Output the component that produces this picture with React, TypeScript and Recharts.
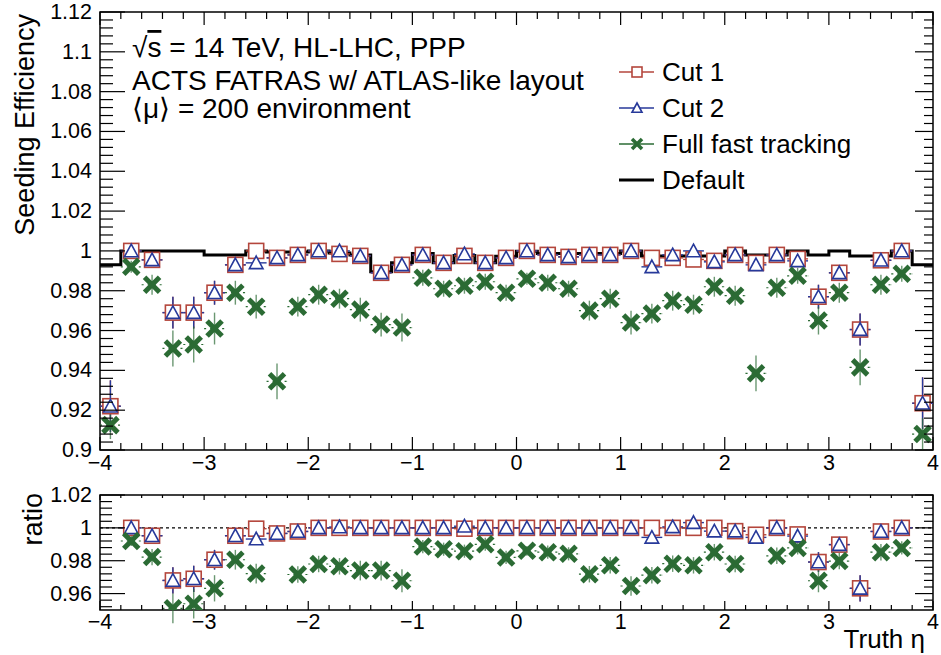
import { ComposedChart, ErrorBar, Line, ReferenceArea, ReferenceLine, Scatter, XAxis, YAxis } from "recharts";

// eta bin centres (bin width 0.2)
const etaCenters = [
  -3.9, -3.7, -3.5, -3.3, -3.1, -2.9, -2.7, -2.5, -2.3, -2.1,
  -1.9, -1.7, -1.5, -1.3, -1.1, -0.9, -0.7, -0.5, -0.3, -0.1,
  0.1, 0.3, 0.5, 0.7, 0.9, 1.1, 1.3, 1.5, 1.7, 1.9,
  2.1, 2.3, 2.5, 2.7, 2.9, 3.1, 3.3, 3.5, 3.7, 3.9,
];
const binHalfWidth = 0.1;

const defaultEff = [
  0.993, 1.0, 1.0, 1.0, 1.0, 0.998, 0.998, 1.0, 0.9995, 0.9995,
  1.0, 0.999, 0.998, 0.9895, 0.994, 0.9987, 0.994, 0.9977, 0.994, 0.9973,
  0.9998, 0.9987, 0.9987, 0.9987, 0.9987, 1.0, 0.9975, 0.9975, 0.9975, 0.9975,
  1.0, 0.998, 0.998, 1.0, 0.998, 1.0, 0.9975, 0.9975, 1.0, 0.993,
];
const cut1Eff = [
  0.922, 1.0, 0.9955, 0.969, 0.969, 0.979, 0.993, 1.0, 0.9965, 0.998,
  1.0, 0.9985, 0.9975, 0.989, 0.993, 0.998, 0.994, 0.9975, 0.994, 0.9965,
  1.0, 0.998, 0.997, 0.998, 0.998, 1.0, 0.9965, 0.9965, 0.9957, 0.995,
  0.998, 0.994, 0.998, 0.996, 0.977, 0.989, 0.9605, 0.9953, 1.0, 0.9235,
];
const cut2Eff = [
  0.922, 1.0, 0.9955, 0.969, 0.969, 0.979, 0.993, 0.994, 0.9965, 0.998,
  1.0, 1.0, 0.9975, 0.989, 0.993, 0.998, 0.994, 0.9985, 0.994, 0.9965,
  1.0, 0.998, 0.997, 0.998, 0.998, 1.0, 0.992, 0.998, 1.0, 0.9945,
  0.998, 0.993, 0.998, 0.995, 0.977, 0.989, 0.9605, 0.9953, 1.0, 0.9235,
];
const fullEff = [
  0.9125, 0.992, 0.983, 0.951, 0.953, 0.961, 0.979, 0.972, 0.9345, 0.972,
  0.978, 0.976, 0.9705, 0.963, 0.9615, 0.9865, 0.981, 0.9825, 0.9845, 0.979,
  0.986, 0.984, 0.981, 0.97, 0.976, 0.964, 0.9685, 0.975, 0.973, 0.982,
  0.9775, 0.9385, 0.9815, 0.9875, 0.965, 0.979, 0.9415, 0.983, 0.9885, 0.908,
];
const cutErr = [
  0.013, 0.002, 0.002, 0.008, 0.008, 0.006, 0.003, 0.002, 0.002, 0.0015,
  0.0015, 0.0015, 0.0015, 0.002, 0.002, 0.0015, 0.0015, 0.0015, 0.0015, 0.0015,
  0.0015, 0.0015, 0.0015, 0.0015, 0.0015, 0.0015, 0.002, 0.0015, 0.0015, 0.002,
  0.0015, 0.002, 0.0015, 0.002, 0.006, 0.003, 0.008, 0.002, 0.002, 0.013,
];
const fullErr = [
  0.007, 0.003, 0.005, 0.009, 0.009, 0.008, 0.006, 0.006, 0.009, 0.005,
  0.005, 0.005, 0.006, 0.006, 0.007, 0.004, 0.004, 0.004, 0.004, 0.004,
  0.003, 0.004, 0.004, 0.005, 0.005, 0.006, 0.005, 0.005, 0.005, 0.005,
  0.005, 0.009, 0.005, 0.004, 0.007, 0.005, 0.009, 0.005, 0.004, 0.008,
];

// ratio to default (null = outside the 0.95-1.02 window)
const cut1Ratio = [
  null, 1.0, 0.9952, 0.968, 0.969, 0.9806, 0.9952, 0.9995, 0.9966, 0.9978,
  1.0, 1.0, 1.0, 1.0, 1.0, 1.0, 1.0, 0.9995, 1.0, 1.0,
  1.0, 1.0, 1.0, 1.0, 1.0, 1.0, 1.0, 1.0, 1.0, 1.0,
  0.998, 0.9958, 1.0, 0.996, 0.9792, 0.9898, 0.9632, 0.9978, 1.0, null,
];
const cut2Ratio = [
  null, 1.0, 0.9952, 0.968, 0.969, 0.9806, 0.9952, 0.9932, 0.9966, 0.9978,
  1.0, 1.0005, 1.0, 1.0, 1.0, 1.0, 1.0, 1.001, 1.0, 1.0,
  1.0, 1.0, 1.0, 1.0, 1.0, 1.0, 0.9942, 1.0006, 1.0032, 0.998,
  0.998, 0.9942, 1.0, 0.995, 0.9792, 0.9898, 0.9632, 0.9978, 1.0, null,
];
const fullRatio = [
  null, 0.992, 0.9822, 0.951, 0.9538, 0.9632, 0.9806, 0.9722, null, 0.9716,
  0.978, 0.9766, 0.974, 0.974, 0.9678, 0.9886, 0.987, 0.9858, 0.99, 0.982,
  0.986, 0.9852, 0.9842, 0.9718, 0.9772, 0.9646, 0.9712, 0.9782, 0.9772, 0.9852,
  0.978, null, 0.983, 0.9878, 0.9678, 0.9798, null, 0.9852, 0.9878, null,
];

const xMajorTicks = [-4, -3, -2, -1, 0, 1, 2, 3, 4];
const effMajorTicks = [0.9, 0.92, 0.94, 0.96, 0.98, 1, 1.02, 1.04, 1.06, 1.08, 1.1, 1.12];
const ratioMajorTicks = [0.96, 0.98, 1, 1.02];

const RED = "#b4463c";
const BLUE = "#27399a";
const GREEN = "#2b6b34";
const FONT = "'Liberation Sans', Arial, Helvetica, sans-serif";
const TICK_FONT = 21.5;

const PLOT_W = 833;
const TOP_H = 438;
const RATIO_H = 115;

type Pt = { x: number; y: number; ex: number; ey: number };

function toSeries(values: (number | null)[], errs: number[]): Pt[] {
  const out: Pt[] = [];
  values.forEach((v, i) => {
    if (v !== null) out.push({ x: etaCenters[i], y: v, ex: binHalfWidth, ey: errs[i] });
  });
  return out;
}

const defaultSteps = [
  ...etaCenters.map((c, i) => ({ x: c - binHalfWidth, y: defaultEff[i] })),
  { x: etaCenters[etaCenters.length - 1] + binHalfWidth, y: defaultEff[defaultEff.length - 1] },
];

function tickList(first: number, step: number, nSub: number, lo: number, hi: number) {
  const sub = step / nSub;
  const out: number[] = [];
  const k0 = Math.ceil((lo - first) / sub - 1e-6);
  const k1 = Math.floor((hi - first) / sub + 1e-6);
  for (let k = k0; k <= k1; k++) out.push(+(first + k * sub).toFixed(6));
  return out;
}

const isMajor = (v: number, majors: number[]) => majors.some((m) => Math.abs(m - v) < 1e-6);
const fmtX = (v: number) => (v < 0 ? "\u2212" + Math.abs(v) : String(v));
const fmtY = (v: number) => String(Number(v.toFixed(2)));

function makeYTick(majors: number[], near: number[], far: number[]) {
  return (props: any) => {
    const { x, y, payload } = props;
    const major = isMajor(payload.value, majors);
    const a = major ? near[0] : near[1];
    const b = major ? far[0] : far[1];
    return (
      <g>
        <line x1={x} y1={y} x2={x + a} y2={y} stroke="#000" strokeWidth={1.2} />
        <line x1={x + PLOT_W - b} y1={y} x2={x + PLOT_W} y2={y} stroke="#000" strokeWidth={1.2} />
        {major && (
          <text x={x - 8} y={y} textAnchor="end" dominantBaseline="central" fontSize={TICK_FONT} fontFamily={FONT} fill="#000">
            {fmtY(payload.value)}
          </text>
        )}
      </g>
    );
  };
}

function makeXTick(majors: number[], plotH: number, near: number[], far: number[], dy: number) {
  return (props: any) => {
    const { x, y, payload } = props;
    const major = isMajor(payload.value, majors);
    const a = major ? near[0] : near[1];
    const b = major ? far[0] : far[1];
    return (
      <g>
        <line x1={x} y1={y} x2={x} y2={y - a} stroke="#000" strokeWidth={1.2} />
        <line x1={x} y1={y - plotH} x2={x} y2={y - plotH + b} stroke="#000" strokeWidth={1.2} />
        {major && (
          <text x={x} y={y + dy} textAnchor="middle" dominantBaseline="central" fontSize={TICK_FONT} fontFamily={FONT} fill="#000">
            {fmtX(payload.value)}
          </text>
        )}
      </g>
    );
  };
}

function SquareMark({ cx, cy, s = 7.5 }: { cx: number; cy: number; s?: number }) {
  return <rect x={cx - s} y={cy - s} width={2 * s} height={2 * s} fill="#fff" stroke={RED} strokeWidth={1.6} />;
}
function TriangleMark({ cx, cy, s = 6.8 }: { cx: number; cy: number; s?: number }) {
  const pts = `${cx},${cy - s} ${cx + s},${cy + s * 0.85} ${cx - s},${cy + s * 0.85}`;
  return <polygon points={pts} fill="#fff" stroke={BLUE} strokeWidth={1.6} />;
}
function CrossMark({ cx, cy, s = 7.5, w = 5 }: { cx: number; cy: number; s?: number; w?: number }) {
  return (
    <g stroke={GREEN} strokeWidth={w}>
      <line x1={cx - s} y1={cy - s} x2={cx + s} y2={cy + s} />
      <line x1={cx - s} y1={cy + s} x2={cx + s} y2={cy - s} />
    </g>
  );
}

const noShape = () => <g />;
const squareShape = (p: any) => (p.cx == null ? <g /> : <SquareMark cx={p.cx} cy={p.cy} />);
const triangleShape = (p: any) => (p.cx == null ? <g /> : <TriangleMark cx={p.cx} cy={p.cy} />);
const crossShape = (p: any) => (p.cx == null ? <g /> : <CrossMark cx={p.cx} cy={p.cy} />);

function seriesLayers(cut1: Pt[], cut2: Pt[], full: Pt[]) {
  return [
    <Scatter key="e1" data={cut1} dataKey="y" shape={noShape} isAnimationActive={false}>
      <ErrorBar dataKey="ex" direction="x" width={0} stroke={RED} strokeWidth={1.4} />
      <ErrorBar dataKey="ey" direction="y" width={0} stroke={RED} strokeWidth={1.4} />
    </Scatter>,
    <Scatter key="e2" data={cut2} dataKey="y" shape={noShape} isAnimationActive={false}>
      <ErrorBar dataKey="ex" direction="x" width={0} stroke={BLUE} strokeWidth={1.4} />
      <ErrorBar dataKey="ey" direction="y" width={0} stroke={BLUE} strokeWidth={1.4} />
    </Scatter>,
    <Scatter key="e3" data={full} dataKey="y" shape={noShape} isAnimationActive={false}>
      <ErrorBar dataKey="ex" direction="x" width={0} stroke={GREEN} strokeWidth={1.2} strokeDasharray="2 4" />
      <ErrorBar dataKey="ey" direction="y" width={0} stroke={GREEN} strokeWidth={1.4} strokeOpacity={0.7} />
    </Scatter>,
    <Scatter key="m1" data={cut1} dataKey="y" shape={squareShape} isAnimationActive={false} />,
    <Scatter key="m2" data={cut2} dataKey="y" shape={triangleShape} isAnimationActive={false} />,
    <Scatter key="m3" data={full} dataKey="y" shape={crossShape} isAnimationActive={false} />,
  ];
}

const xTicks = tickList(-4, 1, 5, -4, 4);
const effTicks = tickList(0.9, 0.02, 5, 0.9, 1.12);
const ratioTicks = tickList(0.96, 0.02, 5, 0.95, 1.02);

const legendRows = [
  { label: "Cut 1", kind: "square" },
  { label: "Cut 2", kind: "triangle" },
  { label: "Full fast tracking", kind: "cross" },
  { label: "Default", kind: "line" },
];

function Overlay() {
  return (
    <svg width={941} height={655} style={{ position: "absolute", left: 0, top: 0, pointerEvents: "none" }} fontFamily={FONT}>
      <text x={132} y={57} fontSize={28}>
        <tspan>{"\u221A"}</tspan>
        <tspan style={{ textDecoration: "overline" }}>s</tspan>
        <tspan> = 14 TeV, HL-LHC, PPP</tspan>
      </text>
      <text x={132} y={90} fontSize={28}>ACTS FATRAS w/ ATLAS-like layout</text>
      <text x={132} y={118} fontSize={28}>{"\u27E8\u03BC\u27E9 = 200 environment"}</text>

      {legendRows.map((r, i) => {
        const cy = 72 + i * 36;
        const color = r.kind === "square" ? RED : r.kind === "triangle" ? BLUE : r.kind === "cross" ? GREEN : "#000";
        return (
          <g key={r.label}>
            <line x1={619} x2={654} y1={cy} y2={cy} stroke={color} strokeWidth={r.kind === "line" ? 3 : 1.3} />
            {r.kind === "square" && <SquareMark cx={637} cy={cy} s={5} />}
            {r.kind === "triangle" && <TriangleMark cx={637} cy={cy} s={5} />}
            {r.kind === "cross" && <CrossMark cx={637} cy={cy} s={5} w={3.5} />}
            <text x={662} y={cy} dominantBaseline="central" fontSize={26}>
              {r.label}
            </text>
          </g>
        );
      })}

      <text transform="translate(34,14) rotate(-90)" textAnchor="end" fontSize={27}>
        Seeding Efficiency
      </text>
      <text transform="translate(42,493) rotate(-90)" textAnchor="end" fontSize={27}>
        ratio
      </text>
      <text x={925} y={648} textAnchor="end" fontSize={26}>
        {"Truth \u03B7"}
      </text>
    </svg>
  );
}

export default function App() {
  const cut1Top = toSeries(cut1Eff, cutErr);
  const cut2Top = toSeries(cut2Eff, cutErr);
  const fullTop = toSeries(fullEff, fullErr);
  const cut1Low = toSeries(cut1Ratio, cutErr);
  const cut2Low = toSeries(cut2Ratio, cutErr);
  const fullLow = toSeries(fullRatio, fullErr);

  return (
    <div style={{ position: "absolute", left: 0, top: 0, width: 941, height: 655, background: "#fff", fontFamily: FONT }}>
      <div style={{ position: "absolute", left: 0, top: 0 }}>
        <ComposedChart width={941} height={480} margin={{ top: 12, right: 8, bottom: 0, left: 0 }}>
          <XAxis
            type="number"
            dataKey="x"
            domain={[-4, 4]}
            ticks={xTicks}
            interval={0}
            tickSize={0}
            tickMargin={0}
            axisLine={false}
            height={30}
            allowDataOverflow
            tick={makeXTick(xMajorTicks, TOP_H, [13, 7], [13, 7], 13)}
          />
          <YAxis
            type="number"
            dataKey="y"
            domain={[0.9, 1.12]}
            ticks={effTicks}
            interval={0}
            tickSize={0}
            tickMargin={0}
            axisLine={false}
            width={100}
            allowDataOverflow
            tick={makeYTick(effMajorTicks, [25, 13], [18, 9])}
          />
          <ReferenceArea x1={-4} x2={4} y1={0.9} y2={1.12} fill="none" fillOpacity={0} stroke="#000" strokeWidth={1.5} />
          <Line
            data={defaultSteps}
            dataKey="y"
            type="stepAfter"
            stroke="#000"
            strokeWidth={3}
            dot={false}
            isAnimationActive={false}
          />
          {seriesLayers(cut1Top, cut2Top, fullTop)}
        </ComposedChart>
      </div>
      <div style={{ position: "absolute", left: 0, top: 480 }}>
        <ComposedChart width={941} height={175} margin={{ top: 15, right: 8, bottom: 0, left: 0 }}>
          <XAxis
            type="number"
            dataKey="x"
            domain={[-4, 4]}
            ticks={xTicks}
            interval={0}
            tickSize={0}
            tickMargin={0}
            axisLine={false}
            height={45}
            allowDataOverflow
            tick={makeXTick(xMajorTicks, RATIO_H, [9, 5], [5, 3], 12)}
          />
          <YAxis
            type="number"
            dataKey="y"
            domain={[0.95, 1.02]}
            ticks={ratioTicks}
            interval={0}
            tickSize={0}
            tickMargin={0}
            axisLine={false}
            width={100}
            allowDataOverflow
            tick={makeYTick(ratioMajorTicks, [25, 12], [18, 9])}
          />
          <ReferenceArea x1={-4} x2={4} y1={0.95} y2={1.02} fill="none" fillOpacity={0} stroke="#000" strokeWidth={1.5} />
          <ReferenceLine y={1} stroke="#000" strokeWidth={1.2} strokeDasharray="3 3" />
          {seriesLayers(cut1Low, cut2Low, fullLow)}
        </ComposedChart>
      </div>
      <Overlay />
    </div>
  );
}
